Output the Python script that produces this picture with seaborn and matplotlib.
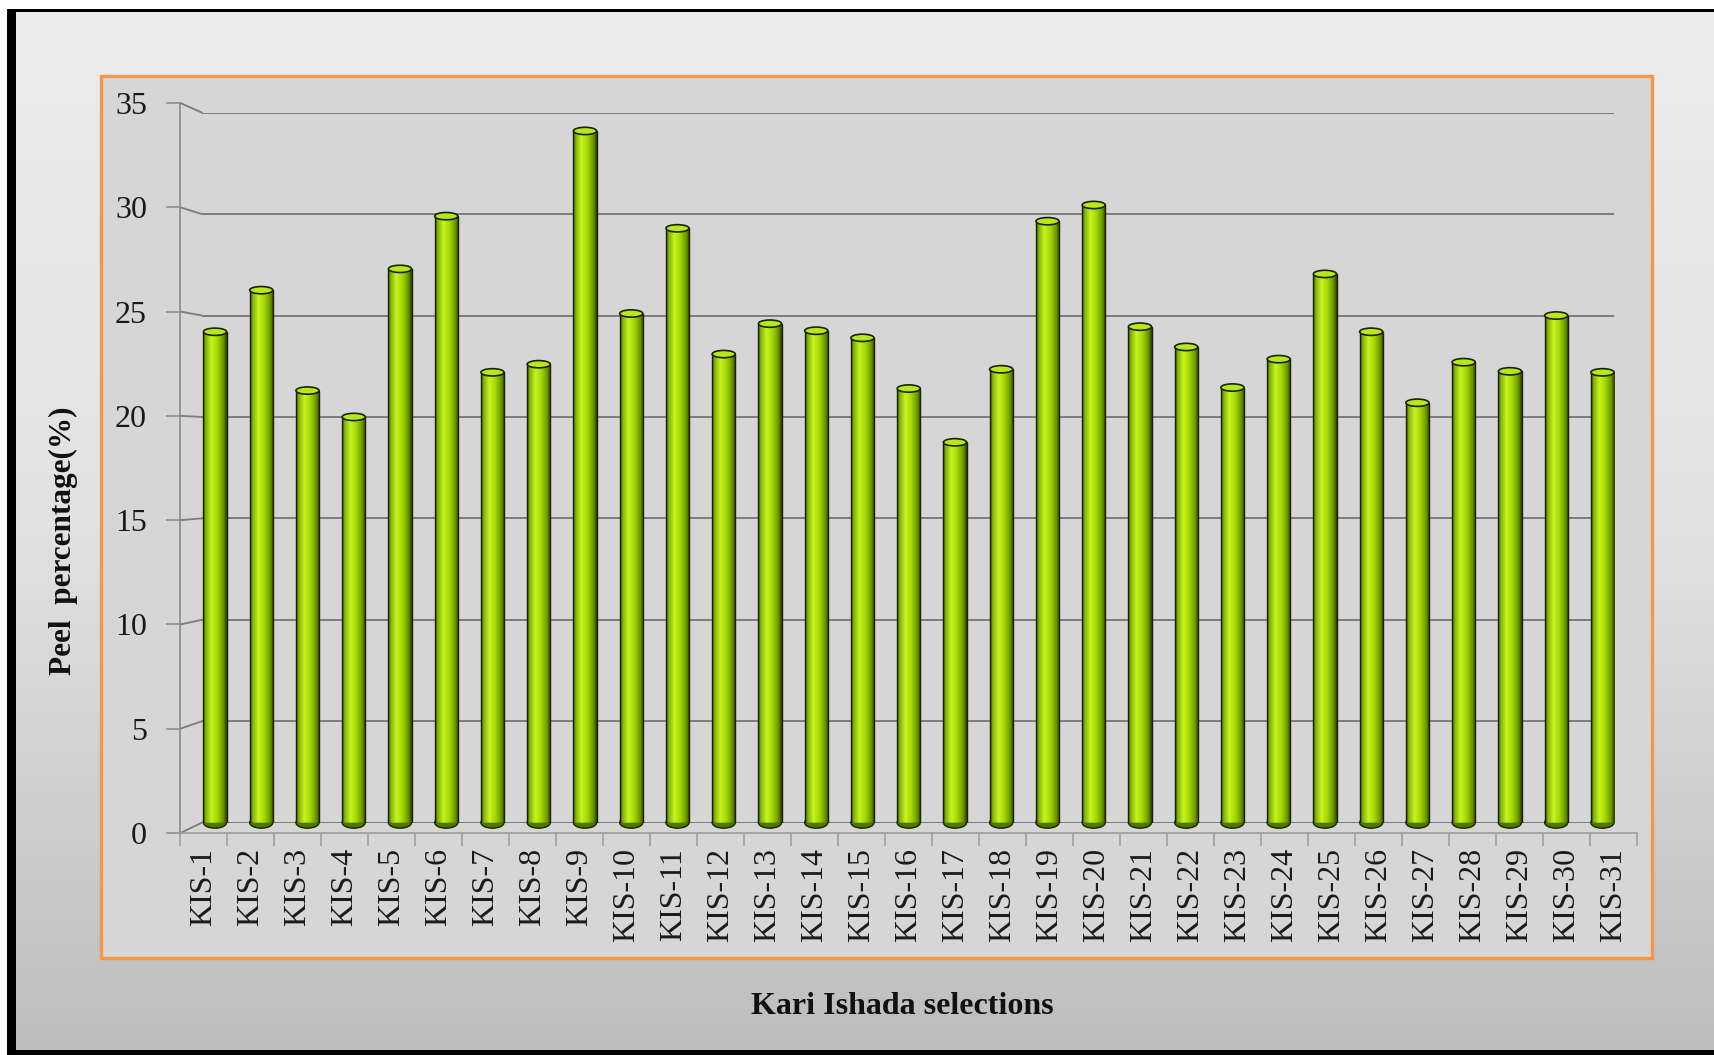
import numpy as np
import pandas as pd
import matplotlib
matplotlib.use("Agg")
import matplotlib.pyplot as plt
import seaborn as sns
from matplotlib.patches import Rectangle, Ellipse
from matplotlib.colors import LinearSegmentedColormap

# ---------------- data ----------------
categories = ["KIS-1", "KIS-2", "KIS-3", "KIS-4", "KIS-5", "KIS-6", "KIS-7", "KIS-8",
              "KIS-9", "KIS-10", "KIS-11", "KIS-12", "KIS-13", "KIS-14", "KIS-15",
              "KIS-16", "KIS-17", "KIS-18", "KIS-19", "KIS-20", "KIS-21", "KIS-22",
              "KIS-23", "KIS-24", "KIS-25", "KIS-26", "KIS-27", "KIS-28", "KIS-29",
              "KIS-30", "KIS-31"]
peel = [24.2, 26.25, 21.3, 20.0, 27.3, 29.9, 22.2, 22.6, 34.1, 25.1, 29.3, 23.1,
        24.6, 24.25, 23.9, 21.4, 18.75, 22.35, 29.65, 30.45, 24.45, 23.45, 21.45,
        22.85, 27.05, 24.2, 20.7, 22.7, 22.25, 25.0, 22.2]
yticks = [0, 5, 10, 15, 20, 25, 30, 35]
xlabel = "Kari Ishada selections"
ylabel = "Peel  percentage(%)"

df = pd.DataFrame({"sel": categories, "peel": peel})

# ---------------- style ----------------
sns.set_style("white")
plt.rcParams["font.family"] = ["Liberation Serif", "DejaVu Serif"]

W, H = 1715, 1055
fig = plt.figure(figsize=(W / 100, H / 100), dpi=100)
fig.patch.set_facecolor("white")

# background gradient
bg = fig.add_axes([0, 0, 1, 1], zorder=-10)
grad_v = np.linspace(0, 1, 256).reshape(-1, 1)
bg_cmap = LinearSegmentedColormap.from_list("bg", ["#ececec", "#e2e2e2", "#bdbdbd"])
bg.imshow(grad_v, cmap=bg_cmap, aspect="auto", extent=(0, 1, 0, 1), origin="upper")
bg.set_axis_off()


def fig_rect(x0, y0, x1, y1, **kw):
    # pixel box (top-left origin) -> figure fraction
    r = Rectangle((x0 / W, 1 - y1 / H), (x1 - x0) / W, (y1 - y0) / H,
                  transform=fig.transFigure, **kw)
    fig.add_artist(r)
    return r


def px_axes(x0, x1, y_bottom, y_top, **kw):
    return fig.add_axes([x0 / W, 1 - y_bottom / H, (x1 - x0) / W,
                         (y_bottom - y_top) / H], **kw)


# white margins and black frame
fig_rect(0, 0, 7, H, facecolor="white", edgecolor="none", zorder=-6)
fig_rect(0, 0, W, 9, facecolor="white", edgecolor="none", zorder=-6)
fig_rect(7, 9, 16, 1055, facecolor="black", edgecolor="none", zorder=-5)
fig_rect(7, 9, W, 11.5, facecolor="black", edgecolor="none", zorder=-5)
fig_rect(7, 1050, W, 1055, facecolor="black", edgecolor="none", zorder=-5)

# plot area with orange border
fig_rect(101, 76, 1652, 958, facecolor="#d6d6d6", edgecolor="#f79646",
         linewidth=2.4, zorder=-4)

# back wall axes (gridlines + bars)
axb = px_axes(202, 1614, 822.6, 112.7, zorder=0)
axb.set_facecolor("none")
sns.barplot(data=df, x="sel", y="peel", color="#a8dc00", width=0.5,
            ax=axb, saturation=1)
xb_lim = (-0.281, 30.25)

# cylinder look
cyl = LinearSegmentedColormap.from_list(
    "cyl", [(0, "#304800"), (0.1, "#7caf00"), (0.35, "#c8f424"),
            (0.6, "#a4d800"), (0.85, "#6a9600"), (1, "#2a3e00")])
grad_h = np.linspace(0, 1, 256).reshape(1, -1)
cap_h = 0.36
for p in list(axb.patches):
    x0, w, h = p.get_x(), p.get_width(), p.get_height()
    cx = x0 + w / 2
    axb.add_patch(Ellipse((cx, 0), w, 0.55, facecolor="#4f7600",
                          edgecolor="#1a2400", lw=1.0, zorder=2, clip_on=False))
    im = axb.imshow(grad_h, cmap=cyl, extent=(x0, x0 + w, 0, h), aspect="auto",
                    interpolation="bicubic", zorder=2.5)
    im.set_clip_path(p)
    p.set_facecolor("none")
    p.set_edgecolor("#1a1f10")
    p.set_linewidth(1.0)
    p.set_zorder(3)
    axb.add_patch(Ellipse((cx, h), w, cap_h, facecolor="#b6e81c",
                          edgecolor="#1a2400", lw=1.2, zorder=4, clip_on=False))

axb.set_xlim(*xb_lim)
axb.set_ylim(0, 35)
axb.set_aspect("auto")
axb.set_yticks(yticks)
axb.yaxis.grid(True, color="#7c7c7c", linewidth=1.4)
axb.xaxis.grid(False)
axb.set_axisbelow(True)
for s in axb.spines.values():
    s.set_visible(False)
axb.tick_params(left=False, bottom=False, labelleft=False, labelbottom=False)
axb.set_xlabel("")
axb.set_ylabel("")

# front (wall/floor) axes: value axis and category axis
axf = px_axes(180.4, 1637.4, 833, 103, zorder=1)
axf.set_facecolor("none")
axf.set_xlim(-0.5, 30.5)
axf.set_ylim(0, 35)
for s in ["top", "right"]:
    axf.spines[s].set_visible(False)
axf.spines["left"].set_color("#8a8a8a")
axf.spines["left"].set_linewidth(1.2)
axf.spines["bottom"].set_color("#9a9a9a")
axf.spines["bottom"].set_linewidth(1.2)

axf.set_yticks(yticks)
axf.set_yticklabels([str(v) for v in yticks])
axf.tick_params(axis="y", which="major", length=10, width=1.1, color="#8a8a8a",
                labelsize=23, labelcolor="#1a1a1a", pad=14, left=True)
axf.set_xticks(range(len(categories)))
axf.set_xticklabels(categories, rotation=90)
axf.set_xticks(np.arange(-0.5, len(categories) + 0.5, 1), minor=True)
axf.tick_params(axis="x", which="major", length=0, labelsize=23,
                labelcolor="#1a1a1a", pad=11)
axf.tick_params(axis="x", which="minor", length=9, width=1.1, color="#9a9a9a",
                bottom=True)

# slanted connectors from the front value ticks to the back gridlines
inv_b = axb.transData.inverted()
for v in yticks:
    fx, fy = inv_b.transform(axf.transData.transform((-0.5, v)))
    axb.plot([fx, xb_lim[0]], [fy, v], color="#7c7c7c", lw=1.3,
             clip_on=False, zorder=1)

# axis labels
axf.set_xlabel(xlabel, fontsize=23, fontweight="bold", color="#111111")
axf.xaxis.set_label_coords((902 - 180.4) / (1637.4 - 180.4),
                           (833 - 1006) / (833 - 103))
axf.xaxis.label.set_va("center")
axf.set_ylabel(ylabel, fontsize=22.5, fontweight="bold", color="#111111")
axf.yaxis.set_label_coords((63 - 180.4) / (1637.4 - 180.4),
                           (833 - 541) / (833 - 103))
axf.yaxis.label.set_va("center")

fig.savefig("out.png", dpi=100)
